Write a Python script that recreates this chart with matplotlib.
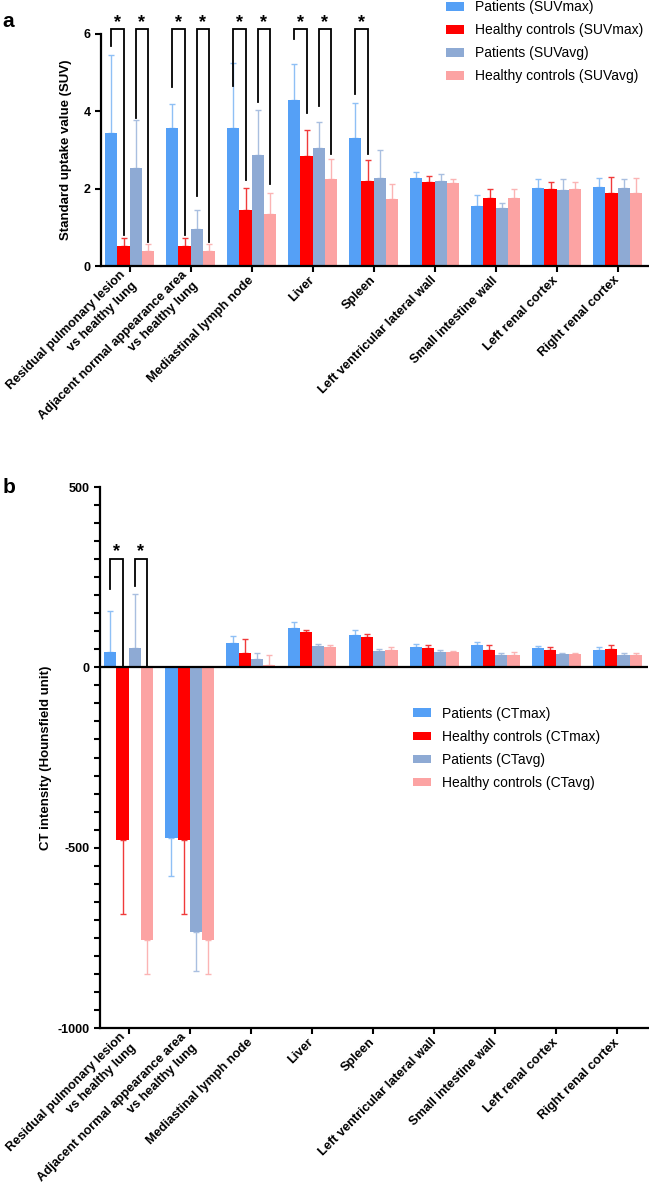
import matplotlib
matplotlib.use("Agg")
import matplotlib.pyplot as plt
import numpy as np

plt.rcParams["font.family"] = ["Liberation Sans", "DejaVu Sans"]
plt.rcParams["font.weight"] = "bold"
plt.rcParams["axes.unicode_minus"] = False

CATEGORIES = [
    "Residual pulmonary lesion\nvs healthy lung",
    "Adjacent normal appearance area\nvs healthy lung",
    "Mediastinal lymph node",
    "Liver",
    "Spleen",
    "Left ventricular lateral wall",
    "Small intestine wall",
    "Left renal cortex",
    "Right renal cortex",
]

# panel a: SUV
patients_suvmax = [3.43, 3.58, 3.58, 4.30, 3.30, 2.27, 1.55, 2.01, 2.05]
patients_suvmax_sd = [2.03, 0.62, 1.68, 0.92, 0.91, 0.17, 0.29, 0.23, 0.22]
healthy_suvmax = [0.52, 0.52, 1.44, 2.85, 2.19, 2.17, 1.76, 2.00, 1.89]
healthy_suvmax_sd = [0.20, 0.20, 0.57, 0.66, 0.54, 0.15, 0.22, 0.16, 0.41]
patients_suvavg = [2.54, 0.96, 2.87, 3.04, 2.27, 2.20, 1.49, 1.97, 2.03]
patients_suvavg_sd = [1.24, 0.50, 1.16, 0.69, 0.72, 0.18, 0.15, 0.28, 0.22]
healthy_suvavg = [0.39, 0.39, 1.35, 2.24, 1.73, 2.14, 1.75, 1.98, 1.88]
healthy_suvavg_sd = [0.18, 0.18, 0.55, 0.52, 0.39, 0.11, 0.24, 0.18, 0.39]
labels_a = ["Patients (SUVmax)", "Healthy controls (SUVmax)",
            "Patients (SUVavg)", "Healthy controls (SUVavg)"]
# (group, left series, right series, left leg bottom, right leg bottom)
sig_a = [(0, 0, 1, 5.68, 0.80), (0, 2, 3, 3.82, 0.61),
         (1, 0, 1, 4.63, 0.79), (1, 2, 3, 1.81, 0.61),
         (2, 0, 1, 4.66, 2.22), (2, 2, 3, 4.23, 2.11),
         (3, 0, 1, 5.88, 3.95), (3, 2, 3, 4.14, 2.89),
         (4, 0, 1, 4.44, 2.90)]
sig_a_top = 6.12

# panel b: CT
patients_ctmax = [41.5, -473, 68.3, 109.8, 89.5, 56.3, 60.9, 53.5, 48.9]
patients_ctmax_sd = [113.5, 105.8, 17.5, 16.6, 13.8, 9.2, 10.1, 4.6, 7.4]
healthy_ctmax = [-479.6, -479.6, 39.7, 96.9, 84.0, 54.4, 48.9, 48.9, 51.7]
healthy_ctmax_sd = [204, 204, 38.7, 5.5, 8.3, 8.3, 12.0, 7.4, 9.2]
patients_ctavg = [54.4, -734.6, 24.0, 58.1, 45.2, 41.5, 35.0, 36.9, 34.1]
patients_ctavg_sd = [149.5, 106.4, 16.6, 7.4, 6.5, 5.5, 4.7, 2.8, 4.6]
healthy_ctavg = [-755, -755, 6.5, 57.2, 48.9, 41.5, 34.1, 36.0, 34.1]
healthy_ctavg_sd = [96.5, 96.5, 26.7, 5.5, 6.5, 3.7, 7.4, 3.7, 5.6]
labels_b = ["Patients (CTmax)", "Healthy controls (CTmax)",
            "Patients (CTavg)", "Healthy controls (CTavg)"]
sig_b = [(0, 0, 1, 218, 5), (0, 2, 3, 225, 5)]
sig_b_top = 300

BAR_COLORS = ["#55a0f6", "#ff0000", "#8eaad4", "#fca3a3"]
ERR_COLORS = ["#8fc0f5", "#f03a3a", "#a9bfe0", "#fbb4b4"]
BAR_W = 0.2


def offsets(s):
    return (s - 1.5) * BAR_W


def draw_bars(ax, means, sds, labels):
    x = np.arange(len(CATEGORIES))
    handles = []
    for s, (m, sd) in enumerate(zip(means, sds)):
        m = np.asarray(m, dtype=float)
        sd = np.asarray(sd, dtype=float)
        lower = np.where(m < 0, sd, 0)
        upper = np.where(m >= 0, sd, 0)
        xs = x + offsets(s)
        h = ax.bar(xs, m, width=BAR_W, color=BAR_COLORS[s], label=labels[s], zorder=2)
        ax.errorbar(xs, m, yerr=[lower, upper], fmt="none", ecolor=ERR_COLORS[s],
                    elinewidth=1.0, capsize=2.0, capthick=1.0, zorder=1)
        handles.append(h)
    return handles


def draw_brackets(ax, sigs, top, star_y):
    for g, a, b, ya, yb in sigs:
        xa = g + offsets(a)
        xb = g + offsets(b)
        ax.plot([xa, xa, xb, xb], [ya, top, top, yb], color="black", lw=1.3,
                clip_on=False, zorder=3, solid_joinstyle="miter")
        ax.text((xa + xb) / 2, star_y, "*", ha="center", va="center",
                fontsize=13, fontweight="bold", clip_on=False)


def style_axes(ax):
    for side in ("top", "right"):
        ax.spines[side].set_visible(False)
    for side in ("left", "bottom"):
        ax.spines[side].set_linewidth(1.6)
    ax.tick_params(axis="both", width=1.5, length=4, labelsize=9)
    ax.set_xlim(-0.47, 8.5)
    ax.set_xticks(np.arange(len(CATEGORIES)))
    ax.set_xticklabels(CATEGORIES, rotation=45, ha="right", va="center",
                       rotation_mode="anchor", fontsize=9.2, fontweight="bold",
                       multialignment="right", linespacing=1.45)
    ax.tick_params(axis="x", pad=5)


def main():
    fig = plt.figure(figsize=(6.49, 12.01), dpi=100)

    # panel a
    ax_a = fig.add_axes([0.1556, 0.7785, 0.843, 0.1932])
    handles = draw_bars(
        ax_a,
        [patients_suvmax, healthy_suvmax, patients_suvavg, healthy_suvavg],
        [patients_suvmax_sd, healthy_suvmax_sd, patients_suvavg_sd, healthy_suvavg_sd],
        labels_a,
    )
    ax_a.set_ylim(0, 6)
    ax_a.set_yticks([0, 2, 4, 6])
    style_axes(ax_a)
    ax_a.set_ylabel("Standard uptake value (SUV)", fontsize=9.5, fontweight="bold", labelpad=8)
    draw_brackets(ax_a, sig_a, sig_a_top, 6.30)
    fig.legend(handles, labels_a, loc="upper left", bbox_to_anchor=(0.687, 1.0),
               frameon=False, handlelength=1.3, handleheight=0.6,
               handletextpad=0.8, labelspacing=0.65, borderpad=0, borderaxespad=0,
               prop={"weight": "normal", "size": 10})
    fig.text(0.004, 0.99, "a", fontsize=15, fontweight="bold", va="top")

    # panel b
    ax_b = fig.add_axes([0.154, 0.144, 0.8445, 0.4505])
    handles = draw_bars(
        ax_b,
        [patients_ctmax, healthy_ctmax, patients_ctavg, healthy_ctavg],
        [patients_ctmax_sd, healthy_ctmax_sd, patients_ctavg_sd, healthy_ctavg_sd],
        labels_b,
    )
    ax_b.axhline(0, color="black", lw=1.6, zorder=4)
    ax_b.set_ylim(-1000, 500)
    ax_b.set_yticks([-1000, -500, 0, 500])
    ax_b.set_yticks(np.arange(-1000, 501, 50), minor=True)
    ax_b.tick_params(axis="y", which="minor", width=1.5, length=4)
    style_axes(ax_b)
    ax_b.set_ylabel("CT intensity (Hounsfield unit)", fontsize=9.5, fontweight="bold", labelpad=4)
    draw_brackets(ax_b, sig_b, sig_b_top, 320)
    fig.legend(handles, labels_b, loc="upper left", bbox_to_anchor=(0.636, 0.4115),
               frameon=False, handlelength=1.3, handleheight=0.6,
               handletextpad=0.8, labelspacing=0.65, borderpad=0, borderaxespad=0,
               prop={"weight": "normal", "size": 10})
    fig.text(0.004, 0.602, "b", fontsize=15, fontweight="bold", va="top")

    fig.savefig("out.png", dpi=100)
    plt.close(fig)


if __name__ == "__main__":
    main()
